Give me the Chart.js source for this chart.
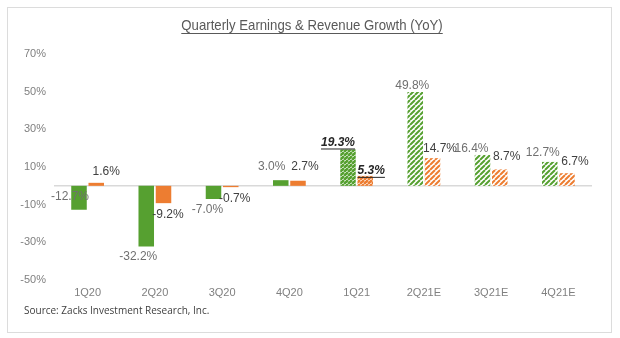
<!DOCTYPE html>
<html><head><meta charset="utf-8">
<script src="https://cdn.jsdelivr.net/npm/chart.js@4/dist/chart.umd.min.js"></script>
<style>html,body{margin:0;padding:0;background:#fff;}#wrap{width:620px;height:338px;}</style>
</head><body><div id="wrap"><canvas id="c" width="620" height="338"></canvas></div>
<script>
// ---------- data ----------
const categories = ['1Q20', '2Q20', '3Q20', '4Q20', '1Q21', '2Q21E', '3Q21E', '4Q21E'];
const earningsGrowth = [-12.7, -32.2, -7.0, 3.0, 19.3, 49.8, 16.4, 12.7];
const revenueGrowth = [1.6, -9.2, -0.7, 2.7, 5.3, 14.7, 8.7, 6.7];
const yMin = -50, yMax = 70, yStep = 20;
const titleText = 'Quarterly Earnings & Revenue Growth (YoY)';
const sourceText = 'Source: Zacks Investment Research, Inc.';

// ---------- style ----------
const GREEN = '#56a030', ORANGE = '#ed7d31';
const fillKind = ['solid', 'solid', 'solid', 'solid', 'dense', 'hatch', 'hatch', 'hatch'];
const labelEmphasis = [false, false, false, false, true, false, false, false];
// label offsets (dx, dy) from each bar's end point
const earnLabelOffsets = [[-9, -13], [-8, 10], [-6, 10.5], [-9, -13.5], [-10, -7], [-3, -6.5], [-11, -6], [-7, -9.5]];
const revLabelOffsets = [[10, -11], [4.5, 12], [4, 11.5], [7, -14], [6, -5], [7.5, -9.5], [7, -13], [8, -11.5]];

const canvas = document.getElementById('c');
const ctx = canvas.getContext('2d');

function makeHatch(color, size, lw) {
  const c = document.createElement('canvas');
  c.width = c.height = size;
  const x = c.getContext('2d');
  x.fillStyle = '#ffffff';
  x.fillRect(0, 0, size, size);
  x.strokeStyle = color;
  x.lineWidth = lw;
  x.beginPath();
  for (let k = -1; k <= 1; k++) { x.moveTo(k * size, size); x.lineTo(k * size + size, 0); }
  x.stroke();
  return ctx.createPattern(c, 'repeat');
}
function fills(color) {
  const dense = makeHatch(color, 4, 2.6);
  const hatch = makeHatch(color, 5, 2.0);
  return fillKind.map(k => k === 'solid' ? color : (k === 'dense' ? dense : hatch));
}

const FONT = "'Liberation Sans', Arial, sans-serif";

const decor = {
  id: 'decor',
  beforeDraw(chart) {
    const c = chart.ctx;
    c.save();
    c.fillStyle = '#fff';
    c.fillRect(0, 0, chart.width, chart.height);
    c.strokeStyle = '#dcdcdc';
    c.lineWidth = 1;
    c.strokeRect(7.5, 7.5, 604, 325);
    // title (condensed to mimic a narrow face)
    c.font = "15px 'Liberation Sans', Arial, sans-serif";
    c.fillStyle = '#595959';
    c.textAlign = 'center';
    c.textBaseline = 'middle';
    const sx = 0.88;
    c.save();
    c.translate(312, 26);
    c.scale(sx, 1);
    c.fillText(titleText, 0, 0);
    const w = c.measureText(titleText).width;
    c.fillRect(-w / 2, 7, w, 1);
    c.restore();
    // source
    c.font = "10px 'Open Sans', sans-serif";
    c.fillStyle = '#404040';
    c.textAlign = 'left';
    c.fillText(sourceText, 24, 311);
    c.restore();
  },
  beforeDatasetsDraw(chart) {
    const c = chart.ctx, y = chart.scales.y.getPixelForValue(0), a = chart.chartArea;
    c.save();
    c.strokeStyle = '#d9d9d9';
    c.lineWidth = 1.5;
    c.beginPath(); c.moveTo(a.left, y); c.lineTo(a.right, y); c.stroke();
    c.restore();
  },
  afterDatasetsDraw(chart) {
    const c = chart.ctx;
    c.save();
    c.textAlign = 'center';
    c.textBaseline = 'middle';
    chart.data.datasets.forEach((ds, di) => {
      const meta = chart.getDatasetMeta(di);
      const offs = di === 0 ? earnLabelOffsets : revLabelOffsets;
      meta.data.forEach((bar, i) => {
        const v = ds.data[i];
        const txt = v.toFixed(1) + '%';
        const x = bar.x + offs[i][0], y = bar.y + offs[i][1];
        if (labelEmphasis[i]) {
          c.font = "italic bold 12px " + FONT;
          c.fillStyle = '#262626';
        } else {
          c.font = "12px " + FONT;
          c.fillStyle = di === 0 ? '#707070' : '#404040';
        }
        c.fillText(txt, x, y);
        if (labelEmphasis[i]) {
          const w = c.measureText(txt).width;
          c.fillRect(x - w / 2, y + 6, w, 1);
        }
      });
    });
    c.restore();
  }
};

new Chart(canvas, {
  type: 'bar',
  data: {
    labels: categories,
    datasets: [
      { label: 'Earnings Growth', data: earningsGrowth, backgroundColor: fills(GREEN), borderWidth: 0 },
      { label: 'Revenue Growth', data: revenueGrowth, backgroundColor: fills(ORANGE), borderWidth: 0 }
    ]
  },
  options: {
    responsive: false,
    animation: false,
    devicePixelRatio: 1,
    categoryPercentage: 0.513,
    barPercentage: 0.9,
    layout: { padding: { left: 0, top: 54, right: 28, bottom: 0 } },
    plugins: { legend: { display: false }, tooltip: { enabled: false }, title: { display: false } },
    scales: {
      x: {
        grid: { display: false, drawTicks: false },
        border: { display: false },
        ticks: { color: '#808080', font: { family: FONT, size: 11 }, padding: 6 },
        afterFit(s) { s.height = 58; }
      },
      y: {
        min: yMin, max: yMax,
        grid: { display: false, drawTicks: false },
        border: { display: false },
        ticks: { stepSize: yStep, color: '#808080', font: { family: FONT, size: 11 }, padding: 8,
                 callback: v => v + '%' },
        afterFit(s) { s.width = 54; }
      }
    }
  },
  plugins: [decor]
});
</script></body></html>
